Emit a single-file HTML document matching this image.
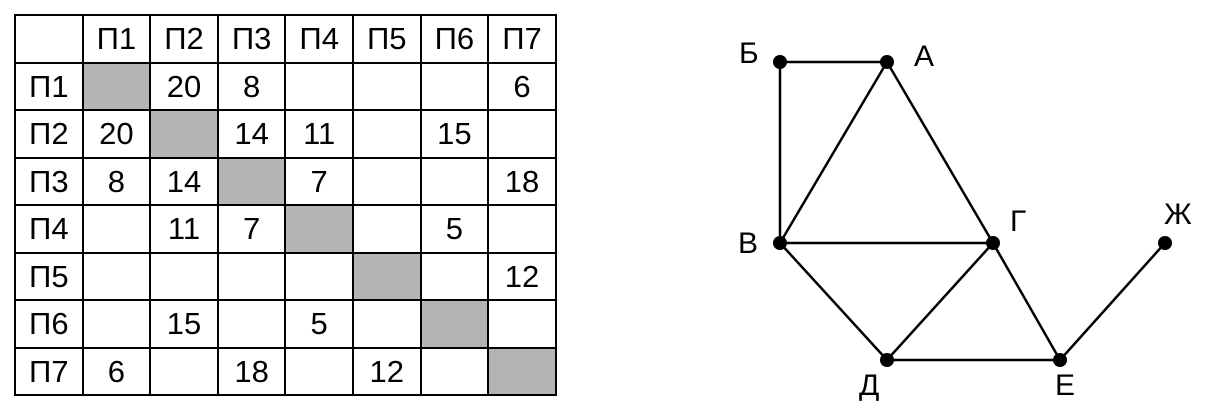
<!DOCTYPE html>
<html><head><meta charset="utf-8"><style>
body{margin:0;width:1210px;height:415px;background:#fff;overflow:hidden;position:relative;font-family:"Liberation Sans","DejaVu Sans",sans-serif}
table{position:absolute;left:14px;top:14px;border-collapse:collapse;table-layout:fixed}
td{width:65.6px;height:45.5px;border:2px solid #000;padding:0;text-align:center;font-size:31px;line-height:45px;font-family:"Liberation Sans",sans-serif;color:#000}
td.g{background:#b4b4b4}
.l{position:absolute;font-size:30px;line-height:30px;color:#000}
</style></head><body>
<table>
<tr><td></td><td>П1</td><td>П2</td><td>П3</td><td>П4</td><td>П5</td><td>П6</td><td>П7</td></tr>
<tr><td>П1</td><td class="g"></td><td>20</td><td>8</td><td></td><td></td><td></td><td>6</td></tr>
<tr><td>П2</td><td>20</td><td class="g"></td><td>14</td><td>11</td><td></td><td>15</td><td></td></tr>
<tr><td>П3</td><td>8</td><td>14</td><td class="g"></td><td>7</td><td></td><td></td><td>18</td></tr>
<tr><td>П4</td><td></td><td>11</td><td>7</td><td class="g"></td><td></td><td>5</td><td></td></tr>
<tr><td>П5</td><td></td><td></td><td></td><td></td><td class="g"></td><td></td><td>12</td></tr>
<tr><td>П6</td><td></td><td>15</td><td></td><td>5</td><td></td><td class="g"></td><td></td></tr>
<tr><td>П7</td><td>6</td><td></td><td>18</td><td></td><td>12</td><td></td><td class="g"></td></tr>
</table>
<svg width="1210" height="415" style="position:absolute;left:0;top:0">
<g stroke="#000" stroke-width="2.5">
<line x1="780" y1="62" x2="887" y2="62"/>
<line x1="780" y1="62" x2="780" y2="243"/>
<line x1="887" y1="62" x2="780" y2="243"/>
<line x1="887" y1="62" x2="993" y2="243"/>
<line x1="780" y1="243" x2="993" y2="243"/>
<line x1="780" y1="243" x2="887" y2="360"/>
<line x1="993" y1="243" x2="887" y2="360"/>
<line x1="993" y1="243" x2="1060" y2="360"/>
<line x1="887" y1="360" x2="1060" y2="360"/>
<line x1="1060" y1="360" x2="1165" y2="243"/>
</g>
<g fill="#000">
<circle cx="780" cy="62" r="7"/><circle cx="887" cy="62" r="7"/>
<circle cx="780" cy="243" r="7"/><circle cx="993" cy="243" r="7"/>
<circle cx="1165" cy="243" r="7"/><circle cx="887" cy="360" r="7"/>
<circle cx="1060" cy="360" r="7"/>
</g>
</svg>
<div class="l" style="left:739px;top:39px">Б</div>
<div class="l" style="left:914px;top:42px">А</div>
<div class="l" style="left:738px;top:229px">В</div>
<div class="l" style="left:1010px;top:207px">Г</div>
<div class="l" style="left:1164px;top:200px">Ж</div>
<div class="l" style="left:859px;top:371px">Д</div>
<div class="l" style="left:1055px;top:371px">Е</div>
</body></html>
